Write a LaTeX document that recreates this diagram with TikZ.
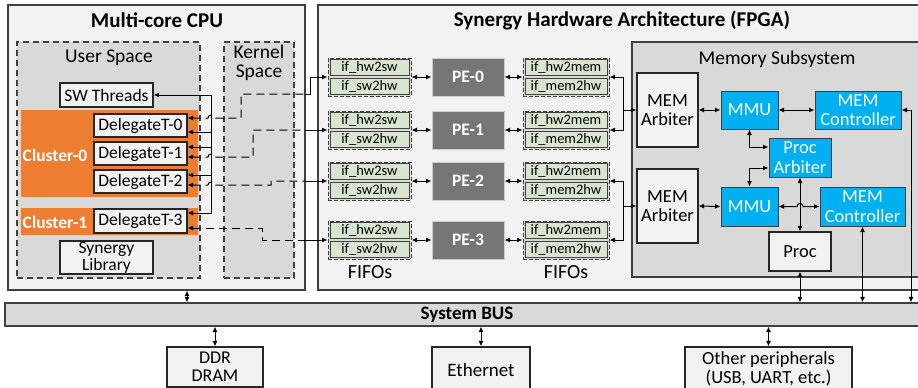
\documentclass[tikz,border=0pt]{standalone}
\usepackage{fontspec}
\setmainfont{Carlito}
\usetikzlibrary{arrows.meta}
\definecolor{paneBg}{HTML}{F2F2F2}
\definecolor{spaceBg}{HTML}{D9D9D9}
\definecolor{clusterOr}{HTML}{ED7D31}
\definecolor{fifoGreen}{HTML}{D8E6D0}
\definecolor{peGray}{HTML}{767676}
\definecolor{mmuBlue}{HTML}{00B0F0}
\definecolor{edgeGray}{HTML}{404040}
\newcommand{\setfs}[2]{\fontsize{#1}{#2}\selectfont}

\begin{document}
\begin{tikzpicture}[x=1pt,y=-1pt,line width=1pt,>={Latex[length=5.5pt,width=5pt]}]
        \tikzstyle{every node}+=[inner sep=0pt]
        \tikzstyle{pane}=[draw=edgeGray, fill=paneBg, line width=1.2pt]
        \tikzstyle{space}=[draw=edgeGray, fill=spaceBg, dash pattern=on 6pt off 4pt, line width=1.1pt]
        \tikzstyle{wbox}=[draw=black!85, fill=paneBg, line width=1.1pt, align=center]
        \tikzstyle{thr}=[wbox, minimum width=93pt, minimum height=23pt, font=\setfs{17.5}{17}]
        \tikzstyle{fgroup}=[draw=edgeGray, fill=spaceBg, dash pattern=on 4pt off 2pt, minimum height=38pt]
        \tikzstyle{fcell}=[draw=edgeGray, fill=fifoGreen, minimum height=16.5pt, font=\setfs{14.5}{14}]
        \tikzstyle{pe}=[fill=peGray, draw=black!20, minimum width=72pt, minimum height=38pt, text=white, font=\setfs{17.5}{17}\bfseries]
        \tikzstyle{bbox}=[draw=edgeGray, fill=mmuBlue, text=white, align=center, font=\setfs{18.5}{19.5}]
        \tikzstyle{mbox}=[wbox, font=\setfs{18.5}{19.5}]
        \tikzstyle{kpath}=[dash pattern=on 8pt off 5pt]
        \useasboundingbox (0,0) rectangle (918,388);

        % panes
        \node[pane, minimum width=297pt, minimum height=285pt] (cpu) at (156.5,147.5) {};
        \node[font=\setfs{21}{21}\bfseries] (cputitle) at (157,20) {Multi-core CPU};
        \node[pane, minimum width=617pt, minimum height=285pt] (fpga) at (626.5,147.5) {};
        \node[font=\setfs{21}{21}\bfseries] (fpgatitle) at (622,20) {Synergy Hardware Architecture (FPGA)};

        % CPU side
        \node[space, minimum width=183pt, minimum height=236pt] (user) at (108.5,160) {};
        \node[font=\setfs{19.5}{19}] (userlbl) at (109,58) {User Space};
        \node[space, minimum width=70pt, minimum height=236pt] (kern) at (259,160) {};
        \node[font=\setfs{19.5}{19.5}, align=center] (kernlbl) at (259,63) {Kernel\\Space};
        \node[thr, minimum height=24pt] (sw) at (106.5,95) {SW Threads};
        \node[fill=clusterOr, minimum width=177pt, minimum height=87pt] (clu0) at (109.5,153.5) {};
        \node[text=white, font=\setfs{17.5}{17}\bfseries] (clu0lbl) at (55,155) {Cluster-0};
        \node[thr] (d0) at (140.5,125.5) {DelegateT-0};
        \node[thr] (d1) at (140.5,153.5) {DelegateT-1};
        \node[thr] (d2) at (140.5,181.5) {DelegateT-2};
        \node[fill=clusterOr, minimum width=177pt, minimum height=27pt] (clu1) at (109.5,221.5) {};
        \node[text=white, font=\setfs{17.5}{17}\bfseries] (clu1lbl) at (55,222) {Cluster-1};
        \node[thr, minimum height=24pt] (d3) at (140.5,221) {DelegateT-3};
        \node[thr, minimum height=33pt] (lib) at (106.5,257.5) {Synergy\\Library};

        % FIFOs and PEs
        \foreach \i/\y in {0/77,1/130,2/181,3/240}{
            \node[fgroup, minimum width=83pt] (fL\i) at (369.5,\y) {};
            \node[fcell, minimum width=79pt] (fL\i a) at (369.5,\y-9.5) {if\_hw2sw};
            \node[fcell, minimum width=79pt] (fL\i b) at (369.5,\y+9.5) {if\_sw2hw};
            \node[pe] (pe\i) at (468,\y) {PE-\i};
            \node[fgroup, minimum width=86pt] (fR\i) at (566,\y) {};
            \node[fcell, minimum width=82pt] (fR\i a) at (566,\y-9.5) {if\_hw2mem};
            \node[fcell, minimum width=82pt] (fR\i b) at (566,\y+9.5) {if\_mem2hw};
            \draw[<->] (fL\i.east) -- (pe\i.west);
            \draw[<->] (pe\i.east) -- (fR\i.west);
        }
        \node[font=\setfs{20}{20}] (fifoL) at (370,272) {FIFOs};
        \node[font=\setfs{20}{20}] (fifoR) at (566,272) {FIFOs};

        % memory subsystem
        \node[draw=edgeGray, fill=spaceBg, line width=1.1pt, minimum width=303pt, minimum height=235pt] (mem) at (783.5,159.5) {};
        \node[font=\setfs{19.5}{19}] (memlbl) at (777,59) {Memory Subsystem};
        \node[mbox, minimum width=61pt, minimum height=74pt] (arb1) at (667.5,110) {MEM\\Arbiter};
        \node[mbox, minimum width=61pt, minimum height=74pt] (arb2) at (667.5,206) {MEM\\Arbiter};
        \node[bbox, minimum width=57pt, minimum height=38pt] (mmu1) at (749.5,110) {MMU};
        \node[bbox, minimum width=86pt, minimum height=38pt] (ctl1) at (858,110) {MEM\\Controller};
        \node[bbox, minimum width=62pt, minimum height=39pt] (parb) at (800,157.5) {Proc\\Arbiter};
        \node[bbox, minimum width=57pt, minimum height=39pt] (mmu2) at (749.5,206.5) {MMU};
        \node[bbox, minimum width=85pt, minimum height=39pt] (ctl2) at (862.5,206.5) {MEM\\Controller};
        \node[mbox, minimum width=62pt, minimum height=39pt] (proc) at (800,251.5) {Proc};

        % bus and peripherals
        \node[draw=edgeGray, fill=spaceBg, line width=1.1pt, minimum width=930pt, minimum height=23pt] (bus) at (470,314.5) {};
        \node[font=\setfs{19}{19}\bfseries] (buslbl) at (467,315) {System BUS};
        \node[wbox, minimum width=96pt, minimum height=40pt, font=\setfs{18}{18}] (ddr) at (215,367) {DDR\\DRAM};
        \node[wbox, minimum width=98pt, minimum height=46pt, font=\setfs{19}{19}] (eth) at (481,370) {Ethernet};
        \node[wbox, minimum width=167pt, minimum height=44pt, font=\setfs{18.5}{19}] (oth) at (768.5,369) {Other peripherals\\(USB, UART, etc.)};
        \fill[paneBg] (ddr.south west) ++(0.6,0) rectangle (263,395);
        \draw[draw=black!85, line width=1.1pt] (ddr.south west) -- (167,395) (ddr.south east) -- (263,395);

        % threads to delegates
        \draw[<->] (sw.east) -- (211,95) -- (211,213) -- (d3.east |- 0,213);
        \draw[->] (211,132) -- (d0.east |- 0,132);
        \draw[->] (211,147) -- (d1.east |- 0,147);
        \draw[->] (211,175) -- (d2.east |- 0,175);

        % delegates to FIFOs through kernel
        \draw[kpath,<-] (d0.east |- 0,118) -- (208,118) arc[start angle=180,end angle=360,radius=3] -- (241,118) -- (241,94) -- (305,94);
        \draw[->] (305,94) -- (310,94) -- (310,77) -- (fL0.west);
        \draw[kpath,<-] (d1.east |- 0,157) -- (208,157) arc[start angle=180,end angle=360,radius=3] -- (253,157) -- (253,130) -- (305,130);
        \draw[->] (305,130) -- (fL1.west);
        \draw[kpath,<-] (d2.east |- 0,185) -- (208,185) arc[start angle=180,end angle=360,radius=3] -- (271,185) -- (271,181) -- (305,181);
        \draw[->] (305,181) -- (fL2.west);
        \draw[kpath,<-] (d3.east |- 0,228) -- (262,228) -- (262,240) -- (305,240);
        \draw[->] (305,240) -- (fL3.west);

        % FIFOs to arbiters
        \draw[<->] (fR0.east) -- (623,77) -- (623,130) -- (fR1.east);
        \draw[->] (623,110) -- (arb1.west);
        \draw[<->] (fR2.east) -- (623,181) -- (623,240) -- (fR3.east);
        \draw[->] (623,206) -- (arb2.west);

        % inside memory subsystem
        \draw[<->] (arb1.east) -- (mmu1.west);
        \draw[<->] (mmu1.east) -- (ctl1.west);
        \draw[<->] (arb2.east) -- (mmu2.west);
        \draw[<->] (mmu2.east) -- (797,206.5) arc[start angle=180,end angle=360,radius=3] -- (ctl2.west);
        \draw[<->] (mmu1.south) -- (mmu1.south |- 0,147) -- (parb.west |- 0,147);
        \draw[<->] (mmu2.north) -- (mmu2.north |- 0,168) -- (parb.west |- 0,168);
        \draw[<->] (parb.south) -- (proc.north);

        % to the bus
        \draw[<->] (proc.south) -- (proc.south |- bus.north);
        \draw[<->] (ctl2.south) -- (ctl2.south |- bus.north);
        \draw[<->] (ctl1.east) -- (911,110) -- (911,0 |- bus.north);
        \draw[<->] (187,0 |- cpu.south) -- (187,0 |- bus.north);
        \draw[<->] (ddr.north |- bus.south) -- (ddr.north);
        \draw[<->] (eth.north |- bus.south) -- (eth.north);
        \draw[<->] (oth.north |- bus.south) -- (oth.north);
\end{tikzpicture}
\end{document}
